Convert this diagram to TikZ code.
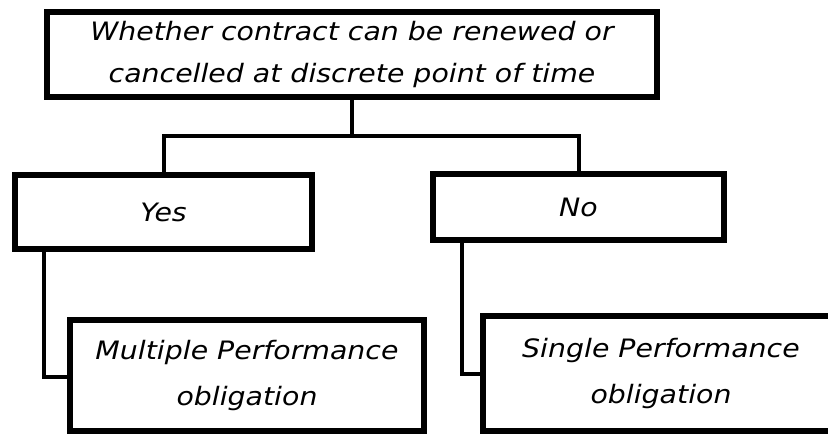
\documentclass[tikz,border=0pt]{standalone}
\usepackage{fontspec}
\setmainfont{DejaVu Sans}[FakeStretch=1.12]
\usetikzlibrary{positioning,shadows}

\begin{document}
\begin{tikzpicture}[
      x=0.75pt, y=-0.75pt,
      box/.style={
        rectangle, draw=black, fill=white, line width=4.5pt,
        drop shadow={shadow xshift=1.5pt, shadow yshift=-1.5pt, opacity=0.25},
        align=center, font=\fontsize{19pt}{32pt}\selectfont\itshape, inner sep=0pt
      },
      link/.style={draw=black, line width=3pt}
    ]
      \useasboundingbox (0,0) rectangle (828,434);
      \clip (0,0) rectangle (828,434);

      \node[box, minimum width=457.5pt, minimum height=63.75pt] (renew) at (352,54.5)
        {Whether contract can be renewed or\\cancelled at discrete point of time};
      \node[box, minimum width=222.75pt, minimum height=55.5pt] (yes) at (163.5,212) {Yes};
      \node[box, minimum width=218.25pt, minimum height=49.5pt] (no) at (578.5,207) {No};
      \node[box, minimum width=265.5pt, minimum height=83.25pt, font=\fontsize{19pt}{34pt}\selectfont\itshape] (multi) at (247,375.5)
        {Multiple Performance\\obligation};
      \node[box, minimum width=267pt, minimum height=86.25pt, font=\fontsize{19pt}{34pt}\selectfont\itshape] (single) at (661,373.5)
        {Single Performance\\obligation};

      \coordinate (split) at (352,136);
      \coordinate (yesdrop) at (44,377);
      \coordinate (nodrop) at (462,374);

      \draw[link] (renew.south) -- (split);
      \draw[link] (yes.north) |- (split) -| (no.north);
      \draw[link] (yes.south -| yesdrop) -- (yesdrop) -- (yesdrop -| multi.west);
      \draw[link] (no.south -| nodrop) -- (nodrop) -- (nodrop -| single.west);
    \end{tikzpicture}
\end{document}
